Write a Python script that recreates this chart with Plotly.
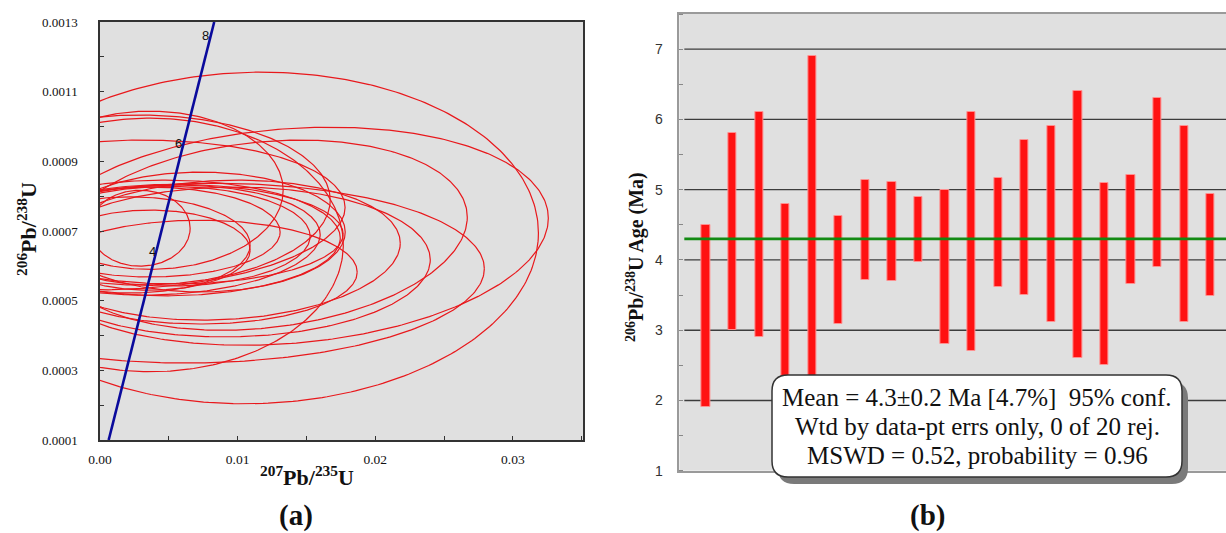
import numpy as np
import plotly.graph_objects as go

W, H = 1226, 533

# ---------------- Panel (a): concordia diagram ----------------
# error ellipses: centre 207Pb/235U, half-width, centre 206Pb/238U, half-height, error correlation
ell_x   = [0.01113, 0.01360, 0.01171, 0.00727, 0.00945, 0.00727, 0.00364, 0.00364, 0.00291, 0.00364,
           0.00509, 0.00436, 0.00545, 0.00473, 0.00218, 0.00364, 0.00291, 0.00145, 0.00727, 0.00873]
ell_sx  = [0.02073, 0.01898, 0.01498, 0.02066, 0.01455, 0.01142, 0.00967, 0.01404, 0.00364, 0.00945,
           0.01018, 0.01164, 0.01222, 0.01273, 0.00873, 0.00727, 0.01382, 0.01636, 0.01055, 0.01309]
ell_y   = [0.000680, 0.000685, 0.000688, 0.000579, 0.000611, 0.000582, 0.000817, 0.000660, 0.000708, 0.000697,
           0.000685, 0.000674, 0.000691, 0.000680, 0.000660, 0.000645, 0.000789, 0.000746, 0.000697, 0.000645]
ell_sy  = [0.000476, 0.000313, 0.000273, 0.000258, 0.000215, 0.000149, 0.000227, 0.000364, 0.000109, 0.000129,
           0.000143, 0.000158, 0.000143, 0.000166, 0.000138, 0.000115, 0.000244, 0.000215, 0.000172, 0.000201]
ell_rho = [0.03, 0.165, 0.19, 0.05, 0.03, 0.0, 0.0, 0.0, 0.0, 0.0,
           0.0, 0.1, 0.0, 0.0, 0.0, 0.0, 0.0, 0.1, 0.0, 0.1]

# concordia curve and its age marks (Ma)
conc_x = [0.00063, 0.00197, 0.00395, 0.00594, 0.00791, 0.00830]
conc_y = [0.00010, 0.00031, 0.00062, 0.00093, 0.00124, 0.00130]
conc_labels = ["4", "6", "8"]
conc_label_x = [0.00378, 0.00567, 0.00764]
conc_label_y = [0.00064, 0.000952, 0.00126]

# ---------------- Panel (b): weighted mean plot ----------------
analysis = list(range(1, 21))
age_top = [4.50, 5.80, 6.10, 4.80, 6.90, 4.62, 5.14, 5.11, 4.89, 5.00,
           6.10, 5.17, 5.70, 5.90, 6.40, 5.10, 5.21, 6.30, 5.90, 4.94]
age_bot = [1.90, 3.00, 2.90, 2.20, 2.10, 3.09, 3.72, 3.70, 3.97, 2.80,
           2.70, 3.62, 3.50, 3.11, 2.60, 2.50, 3.66, 3.90, 3.11, 3.49]
mean_age = 4.3
grid_vals = [2, 3, 4, 5, 6, 7]
y_ticks_b = [1, 2, 3, 4, 5, 6, 7]
box_lines = ["Mean = 4.3±0.2 Ma [4.7%]\u00a0\u00a095% conf.",
             "Wtd by data-pt errs only, 0 of 20 rej.",
             "MSWD = 0.52, probability = 0.96"]

SERIF = "Liberation Serif, Times New Roman, serif"
SANS = "Liberation Sans, Arial, sans-serif"

def px2x(px):
    return px / W

def py2y(py):
    return 1 - py / H

fig = go.Figure()

t = np.linspace(0, 2 * np.pi, 361)
for cx, sx, cy, sy, r in zip(ell_x, ell_sx, ell_y, ell_sy, ell_rho):
    xs = cx + sx * np.cos(t)
    ys = cy + sy * (r * np.cos(t) + np.sqrt(1 - r * r) * np.sin(t))
    fig.add_trace(go.Scatter(x=xs, y=ys, mode="lines", xaxis="x", yaxis="y",
                             line=dict(color="#e8181c", width=1.2), hoverinfo="skip",
                             showlegend=False))

fig.add_trace(go.Scatter(x=conc_x, y=conc_y, mode="lines", xaxis="x", yaxis="y",
                         line=dict(color="#0a0a9c", width=2.6), showlegend=False))

for lab, lx, ly in zip(conc_labels, conc_label_x, conc_label_y):
    fig.add_annotation(x=lx, y=ly, xref="x", yref="y", text=lab, showarrow=False,
                       xanchor="center", yanchor="middle",
                       font=dict(family=SANS, size=13, color="#111"))

# Panel (b) bars
fig.add_trace(go.Bar(x=analysis, y=[a - b for a, b in zip(age_top, age_bot)], base=age_bot,
                     xaxis="x2", yaxis="y2", width=0.31,
                     marker=dict(color="#ff1212", line=dict(color="#ff9090", width=1)),
                     showlegend=False))

shapes = []
for g in grid_vals:
    shapes.append(dict(type="line", xref="x2 domain", yref="y2", x0=0.009, x1=1, y0=g, y1=g,
                       line=dict(color="#3c3c3c", width=1.4), layer="below"))
shapes.append(dict(type="line", xref="x2 domain", yref="y2", x0=0.009, x1=1, y0=mean_age, y1=mean_age,
                   line=dict(color="#138a13", width=2.6), layer="above"))

def rrect(x0, y0, x1, y1, r):
    pts = [f"M {px2x(x0 + r)} {py2y(y0)}",
           f"L {px2x(x1 - r)} {py2y(y0)}",
           f"Q {px2x(x1)} {py2y(y0)} {px2x(x1)} {py2y(y0 + r)}",
           f"L {px2x(x1)} {py2y(y1 - r)}",
           f"Q {px2x(x1)} {py2y(y1)} {px2x(x1 - r)} {py2y(y1)}",
           f"L {px2x(x0 + r)} {py2y(y1)}",
           f"Q {px2x(x0)} {py2y(y1)} {px2x(x0)} {py2y(y1 - r)}",
           f"L {px2x(x0)} {py2y(y0 + r)}",
           f"Q {px2x(x0)} {py2y(y0)} {px2x(x0 + r)} {py2y(y0)}", "Z"]
    return " ".join(pts)

bx0, by0, bx1, by1 = 772, 375, 1182, 477
shapes.append(dict(type="path", xref="paper", yref="paper",
                   path=rrect(bx0 + 6, by0 + 7, bx1 + 6, by1 + 7, 16),
                   fillcolor="#7a7a7a", line=dict(width=0), layer="above"))
shapes.append(dict(type="path", xref="paper", yref="paper",
                   path=rrect(bx0, by0, bx1, by1, 16),
                   fillcolor="white", line=dict(color="#333", width=1.5), layer="above"))

# axis titles and panel labels
def label(px, py, text, size, angle=0, family=SERIF):
    fig.add_annotation(x=px2x(px), y=py2y(py), xref="paper", yref="paper", textangle=angle,
                       text=text, showarrow=False, xanchor="center", yanchor="middle",
                       font=dict(family=family, size=size, color="#111"))

for line_text, ly in zip(box_lines, [397, 426.5, 455.5]):
    label((bx0 + bx1) / 2, ly, line_text, 25)

label(27, 229, "<b><sup>206</sup>Pb/<sup>238</sup>U</b>", 22, -90)
label(307, 476, "<b><sup>207</sup>Pb/<sup>235</sup>U</b>", 22)
label(635, 257, "<b><sup>206</sup>Pb/<sup>238</sup>U Age (Ma)</b>", 20, -90)
label(296, 515, "<b>(a)</b>", 29)
label(927, 515, "<b>(b)</b>", 29)

bar_spacing = 26.56
b_left = 679.4

fig.update_layout(
    width=W, height=H,
    margin=dict(l=0, r=0, t=0, b=0, autoexpand=False),
    paper_bgcolor="white", plot_bgcolor="#e0e0e0",
    showlegend=False, bargap=0,
    shapes=shapes,
    xaxis=dict(domain=[px2x(100), px2x(583)], range=[0, 0.0351], anchor="y", automargin=False,
               showgrid=False, zeroline=False, showline=True, mirror=True,
               linecolor="#333", linewidth=1.5,
               tickvals=[0.0, 0.01, 0.02, 0.03], ticktext=["0.00", "0.01", "0.02", "0.03"],
               ticks="inside", ticklen=4, tickcolor="#333", ticklabelstandoff=6,
               minor=dict(ticks="inside", dtick=0.005, tick0=0, ticklen=4, tickcolor="#333"),
               tickfont=dict(family=SERIF, size=13.5, color="#111")),
    yaxis=dict(domain=[py2y(440), py2y(22)], range=[0.0001, 0.0013], anchor="x", automargin=False,
               showgrid=False, zeroline=False, showline=True, mirror=True,
               linecolor="#333", linewidth=1.5,
               tickvals=[0.0001, 0.0003, 0.0005, 0.0007, 0.0009, 0.0011, 0.0013],
               ticktext=["0.0001", "0.0003", "0.0005", "0.0007", "0.0009", "0.0011", "0.0013"],
               ticks="inside", ticklen=4, tickcolor="#333", ticklabelstandoff=18,
               minor=dict(ticks="inside", dtick=0.0001, tick0=0.0001, ticklen=4, tickcolor="#333"),
               tickfont=dict(family=SERIF, size=13, color="#111")),
    xaxis2=dict(domain=[px2x(b_left), 1.0], range=[0, (W - b_left) / bar_spacing], anchor="y2",
                automargin=False,
                showgrid=False, zeroline=False, showline=True, mirror=True,
                linecolor="#9a9a9a", linewidth=1.5, showticklabels=False, ticks=""),
    yaxis2=dict(domain=[py2y(470.7), py2y(14)], range=[1, 7.5], anchor="x2", automargin=False,
                showgrid=False, zeroline=False, showline=True, mirror=False,
                linecolor="#9a9a9a", linewidth=1.5,
                tickvals=y_ticks_b, ticks="", ticklabelstandoff=12,
                minor=dict(ticks="inside", dtick=0.5, tick0=1, ticklen=4, tickcolor="#888"),
                tickfont=dict(family=SANS, size=14, color="#333")),
)

fig.write_html("out.html", config={"displayModeBar": False},
               post_script="document.body.style.margin='0px';document.body.style.overflow='hidden';")
